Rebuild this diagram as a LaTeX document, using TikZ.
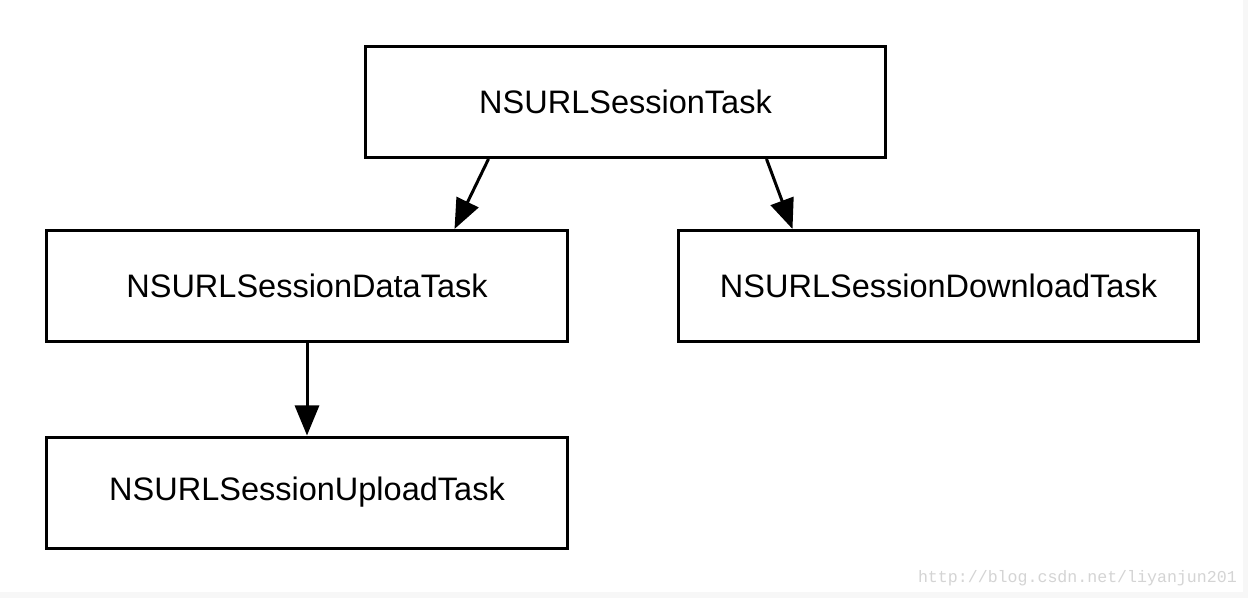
\documentclass[tikz,border=0pt]{standalone}
\usepackage{fontspec}
\setmainfont{Liberation Sans}
\newfontfamily\wmfont{Liberation Mono}
\usetikzlibrary{arrows.meta}
\definecolor{wmgray}{HTML}{D4D4D4}
\definecolor{bandgray}{HTML}{F7F7F7}
\begin{document}
\begin{tikzpicture}[x=1bp,y=-1bp,
  classbox/.style={draw=black,line width=3bp,minimum width=520bp,minimum height=111bp,inner sep=0pt,font=\fontsize{32.5bp}{38bp}\selectfont},
  inherit/.style={line width=3bp,-{Triangle[length=30bp,width=24bp]}}]
\useasboundingbox (0,0) rectangle (1248,598);
\fill[white] (0,0) rectangle (1248,598);
\fill[bandgray] (0,592) rectangle (1248,598);
\fill[bandgray] (1243,0) rectangle (1248,598);
\node[classbox] (task) at (625.5,102) {NSURLSessionTask};
\node[classbox] (data) at (307,286) {NSURLSessionDataTask};
\node[classbox] (down) at (938.5,286) {NSURLSessionDownloadTask};
\node[classbox] (up) at (307,492.5) {NSURLSessionUploadTask};
\coordinate (t1) at ([xshift=124.5bp]task.south west);
\coordinate (d1) at ([xshift=409bp]data.north west);
\coordinate (t2) at ([xshift=402.5bp]task.south west);
\coordinate (w1) at ([xshift=115.5bp]down.north west);
\draw[inherit] (t1) -- (d1);
\draw[inherit] (t2) -- (w1);
\draw[inherit] (data.south) -- (up.north);
\node[text=wmgray,font=\wmfont\fontsize{16.6bp}{18bp}\selectfont,anchor=east,inner sep=0pt] (wm) at (1237,578) {http://blog.csdn.net/liyanjun201};
\end{tikzpicture}
\end{document}
